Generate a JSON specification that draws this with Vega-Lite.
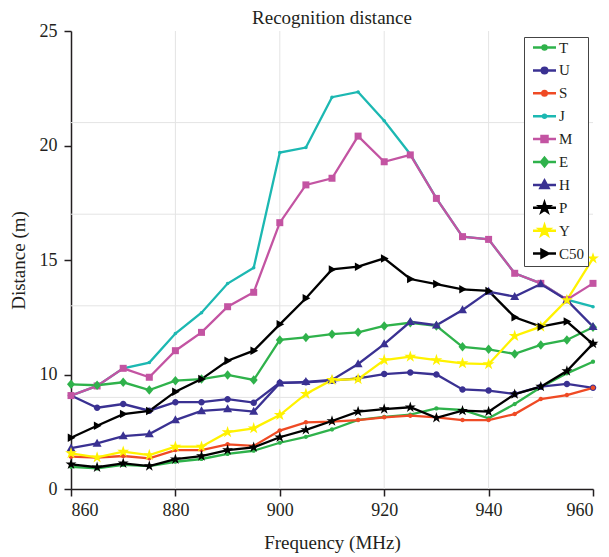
{
  "$schema": "https://vega.github.io/schema/vega-lite/v6.json",
  "width": 522,
  "height": 458,
  "autosize": "none",
  "padding": {"left": 71, "top": 31, "right": 16, "bottom": 68},
  "background": "white",
  "title": {
    "text": "Recognition distance",
    "font": "Liberation Serif",
    "fontSize": 19,
    "fontWeight": "normal",
    "color": "#231f20",
    "frame": "group",
    "anchor": "middle",
    "offset": -6
  },
  "config": {
    "view": {"stroke": null},
    "axis": {
      "domainColor": "#231f20",
      "domainWidth": 1.5,
      "tickColor": "#231f20",
      "tickWidth": 1.5,
      "tickSize": 7,
      "labelFont": "Liberation Serif",
      "labelFontSize": 18,
      "labelColor": "#231f20",
      "titleFont": "Liberation Serif",
      "titleFontSize": 19,
      "titleFontWeight": "normal",
      "titleColor": "#231f20",
      "grid": false
    },
    "legend": {
      "strokeColor": "#444", "fillColor": "white", "padding": 3,
      "labelFont": "Liberation Serif", "labelFontSize": 15, "labelColor": "#231f20",
      "symbolSize": 100, "symbolStrokeWidth": 2.5, "symbolOpacity": 1,
      "symbolOffset": 10, "labelOffset": 7, "rowPadding": 2.9, "gridAlign": "all"
    }
  },
  "datasets": {
    "grid_x": [{"v": 880}, {"v": 900}, {"v": 920}, {"v": 940}],
    "grid_y": [{"g": 9}, {"g": 13}, {"g": 17}, {"g": 21}],
    "distance": [
      {"f":860,"s":"T","d":5.97},{"f":865,"s":"T","d":5.90},{"f":870,"s":"T","d":6.05},{"f":875,"s":"T","d":6.00},{"f":880,"s":"T","d":6.19},{"f":885,"s":"T","d":6.31},{"f":890,"s":"T","d":6.53},{"f":895,"s":"T","d":6.67},{"f":900,"s":"T","d":7.02},{"f":905,"s":"T","d":7.28},{"f":910,"s":"T","d":7.60},{"f":915,"s":"T","d":8.02},{"f":920,"s":"T","d":8.15},{"f":925,"s":"T","d":8.25},{"f":930,"s":"T","d":8.52},{"f":935,"s":"T","d":8.45},{"f":940,"s":"T","d":8.09},{"f":945,"s":"T","d":8.71},{"f":950,"s":"T","d":9.44},{"f":955,"s":"T","d":10.05},{"f":960,"s":"T","d":10.56},
      {"f":860,"s":"U","d":9.08},{"f":865,"s":"U","d":8.55},{"f":870,"s":"U","d":8.71},{"f":875,"s":"U","d":8.42},{"f":880,"s":"U","d":8.79},{"f":885,"s":"U","d":8.79},{"f":890,"s":"U","d":8.92},{"f":895,"s":"U","d":8.77},{"f":900,"s":"U","d":9.64},{"f":905,"s":"U","d":9.66},{"f":910,"s":"U","d":9.73},{"f":915,"s":"U","d":9.83},{"f":920,"s":"U","d":10.02},{"f":925,"s":"U","d":10.09},{"f":930,"s":"U","d":10.00},{"f":935,"s":"U","d":9.35},{"f":940,"s":"U","d":9.30},{"f":945,"s":"U","d":9.15},{"f":950,"s":"U","d":9.47},{"f":955,"s":"U","d":9.59},{"f":960,"s":"U","d":9.42},
      {"f":860,"s":"S","d":6.41},{"f":865,"s":"S","d":6.37},{"f":870,"s":"S","d":6.44},{"f":875,"s":"S","d":6.34},{"f":880,"s":"S","d":6.70},{"f":885,"s":"S","d":6.70},{"f":890,"s":"S","d":6.95},{"f":895,"s":"S","d":6.88},{"f":900,"s":"S","d":7.55},{"f":905,"s":"S","d":7.91},{"f":910,"s":"S","d":7.94},{"f":915,"s":"S","d":8.01},{"f":920,"s":"S","d":8.13},{"f":925,"s":"S","d":8.20},{"f":930,"s":"S","d":8.13},{"f":935,"s":"S","d":8.01},{"f":940,"s":"S","d":8.01},{"f":945,"s":"S","d":8.27},{"f":950,"s":"S","d":8.93},{"f":955,"s":"S","d":9.10},{"f":960,"s":"S","d":9.42},
      {"f":860,"s":"J","d":9.08},{"f":865,"s":"J","d":9.50},{"f":870,"s":"J","d":10.27},{"f":875,"s":"J","d":10.52},{"f":880,"s":"J","d":11.79},{"f":885,"s":"J","d":12.70},{"f":890,"s":"J","d":13.97},{"f":895,"s":"J","d":14.66},{"f":900,"s":"J","d":19.69},{"f":905,"s":"J","d":19.91},{"f":910,"s":"J","d":22.11},{"f":915,"s":"J","d":22.34},{"f":920,"s":"J","d":21.08},{"f":925,"s":"J","d":19.62},{"f":930,"s":"J","d":17.69},{"f":935,"s":"J","d":16.02},{"f":940,"s":"J","d":15.90},{"f":945,"s":"J","d":14.42},{"f":950,"s":"J","d":13.98},{"f":955,"s":"J","d":13.27},{"f":960,"s":"J","d":12.96},
      {"f":860,"s":"M","d":9.08},{"f":865,"s":"M","d":9.50},{"f":870,"s":"M","d":10.27},{"f":875,"s":"M","d":9.88},{"f":880,"s":"M","d":11.04},{"f":885,"s":"M","d":11.84},{"f":890,"s":"M","d":12.96},{"f":895,"s":"M","d":13.59},{"f":900,"s":"M","d":16.63},{"f":905,"s":"M","d":18.28},{"f":910,"s":"M","d":18.57},{"f":915,"s":"M","d":20.41},{"f":920,"s":"M","d":19.29},{"f":925,"s":"M","d":19.59},{"f":930,"s":"M","d":17.69},{"f":935,"s":"M","d":16.02},{"f":940,"s":"M","d":15.90},{"f":945,"s":"M","d":14.42},{"f":950,"s":"M","d":13.98},{"f":955,"s":"M","d":13.27},{"f":960,"s":"M","d":13.98},
      {"f":860,"s":"E","d":9.57},{"f":865,"s":"E","d":9.53},{"f":870,"s":"E","d":9.66},{"f":875,"s":"E","d":9.32},{"f":880,"s":"E","d":9.73},{"f":885,"s":"E","d":9.80},{"f":890,"s":"E","d":9.98},{"f":895,"s":"E","d":9.76},{"f":900,"s":"E","d":11.51},{"f":905,"s":"E","d":11.62},{"f":910,"s":"E","d":11.76},{"f":915,"s":"E","d":11.84},{"f":920,"s":"E","d":12.12},{"f":925,"s":"E","d":12.26},{"f":930,"s":"E","d":12.12},{"f":935,"s":"E","d":11.21},{"f":940,"s":"E","d":11.10},{"f":945,"s":"E","d":10.90},{"f":950,"s":"E","d":11.29},{"f":955,"s":"E","d":11.51},{"f":960,"s":"E","d":12.06},
      {"f":860,"s":"H","d":6.78},{"f":865,"s":"H","d":6.99},{"f":870,"s":"H","d":7.31},{"f":875,"s":"H","d":7.40},{"f":880,"s":"H","d":8.01},{"f":885,"s":"H","d":8.41},{"f":890,"s":"H","d":8.49},{"f":895,"s":"H","d":8.38},{"f":900,"s":"H","d":9.62},{"f":905,"s":"H","d":9.68},{"f":910,"s":"H","d":9.76},{"f":915,"s":"H","d":10.46},{"f":920,"s":"H","d":11.33},{"f":925,"s":"H","d":12.30},{"f":930,"s":"H","d":12.15},{"f":935,"s":"H","d":12.82},{"f":940,"s":"H","d":13.62},{"f":945,"s":"H","d":13.40},{"f":950,"s":"H","d":13.95},{"f":955,"s":"H","d":13.25},{"f":960,"s":"H","d":12.09},
      {"f":860,"s":"P","d":6.08},{"f":865,"s":"P","d":5.95},{"f":870,"s":"P","d":6.12},{"f":875,"s":"P","d":6.00},{"f":880,"s":"P","d":6.30},{"f":885,"s":"P","d":6.44},{"f":890,"s":"P","d":6.70},{"f":895,"s":"P","d":6.82},{"f":900,"s":"P","d":7.26},{"f":905,"s":"P","d":7.58},{"f":910,"s":"P","d":7.97},{"f":915,"s":"P","d":8.38},{"f":920,"s":"P","d":8.49},{"f":925,"s":"P","d":8.57},{"f":930,"s":"P","d":8.11},{"f":935,"s":"P","d":8.42},{"f":940,"s":"P","d":8.38},{"f":945,"s":"P","d":9.14},{"f":950,"s":"P","d":9.47},{"f":955,"s":"P","d":10.15},{"f":960,"s":"P","d":11.35},
      {"f":860,"s":"Y","d":6.56},{"f":865,"s":"Y","d":6.38},{"f":870,"s":"Y","d":6.63},{"f":875,"s":"Y","d":6.48},{"f":880,"s":"Y","d":6.85},{"f":885,"s":"Y","d":6.85},{"f":890,"s":"Y","d":7.48},{"f":895,"s":"Y","d":7.65},{"f":900,"s":"Y","d":8.23},{"f":905,"s":"Y","d":9.15},{"f":910,"s":"Y","d":9.76},{"f":915,"s":"Y","d":9.80},{"f":920,"s":"Y","d":10.63},{"f":925,"s":"Y","d":10.78},{"f":930,"s":"Y","d":10.63},{"f":935,"s":"Y","d":10.49},{"f":940,"s":"Y","d":10.45},{"f":945,"s":"Y","d":11.68},{"f":950,"s":"Y","d":12.09},{"f":955,"s":"Y","d":13.25},{"f":960,"s":"Y","d":15.07},
      {"f":860,"s":"C50","d":7.24},{"f":865,"s":"C50","d":7.76},{"f":870,"s":"C50","d":8.27},{"f":875,"s":"C50","d":8.41},{"f":880,"s":"C50","d":9.25},{"f":885,"s":"C50","d":9.80},{"f":890,"s":"C50","d":10.60},{"f":895,"s":"C50","d":11.04},{"f":900,"s":"C50","d":12.19},{"f":905,"s":"C50","d":13.33},{"f":910,"s":"C50","d":14.59},{"f":915,"s":"C50","d":14.71},{"f":920,"s":"C50","d":15.07},{"f":925,"s":"C50","d":14.17},{"f":930,"s":"C50","d":13.95},{"f":935,"s":"C50","d":13.72},{"f":940,"s":"C50","d":13.65},{"f":945,"s":"C50","d":12.50},{"f":950,"s":"C50","d":12.09},{"f":955,"s":"C50","d":12.31},{"f":960,"s":"C50","d":11.33}
    ]
  },
  "layer": [
    {
      "data": {"name": "grid_x"},
      "mark": {"type": "rule", "color": "#e4e4e4", "strokeWidth": 1},
      "encoding": {
        "x": {
          "field": "v", "type": "quantitative",
          "scale": {"domain": [860, 960], "nice": false},
          "axis": {"values": [860, 880, 900, 920, 940, 960], "format": "d", "labelPadding": 5, "title": "Frequency (MHz)", "titlePadding": 14}
        }
      }
    },
    {
      "data": {"name": "grid_y"},
      "mark": {"type": "rule", "color": "#e4e4e4", "strokeWidth": 1},
      "encoding": {
        "y": {
          "field": "g", "type": "quantitative",
          "scale": {"domain": [5, 25], "nice": false},
          "axis": {"values": [5, 10, 15, 20, 25], "labelExpr": "datum.value == 5 ? '0' : datum.label", "labelPadding": 7, "title": "Distance (m)", "titlePadding": 11}
        }
      }
    },
    {
      "data": {"name": "distance"},
      "mark": {"type": "line", "strokeWidth": 2.3},
      "encoding": {
        "x": {"field": "f", "type": "quantitative", "axis": {"title": "Frequency (MHz)"}},
        "y": {"field": "d", "type": "quantitative", "axis": {"title": "Distance (m)"}},
        "color": {
          "field": "s", "type": "nominal",
          "scale": {
            "range": ["#000000", "#2fb24b", "#3a3192", "#1cb8b2", "#c354a2", "#000000", "#ef4a24", "#2fb24b", "#3a3192", "#fff200"]
          },
          "legend": null
        }
      }
    },
    {
      "data": {"name": "distance"},
      "transform": [{"filter": "datum.s == 'T'"}],
      "mark": {"type": "point", "filled": true, "size": 100, "opacity": 1, "shape": "M-0.42,0A0.42,0.42 0 1,0 0.42,0A0.42,0.42 0 1,0 -0.42,0Z"},
      "encoding": {"x": {"field": "f", "type": "quantitative"}, "y": {"field": "d", "type": "quantitative"}, "color": {"field": "s", "type": "nominal", "legend": null}}
    },
    {
      "data": {"name": "distance"},
      "transform": [{"filter": "datum.s == 'U'"}],
      "mark": {"type": "point", "filled": true, "size": 100, "opacity": 1, "shape": "M-0.65,0A0.65,0.65 0 1,0 0.65,0A0.65,0.65 0 1,0 -0.65,0Z"},
      "encoding": {"x": {"field": "f", "type": "quantitative"}, "y": {"field": "d", "type": "quantitative"}, "color": {"field": "s", "type": "nominal", "legend": null}}
    },
    {
      "data": {"name": "distance"},
      "transform": [{"filter": "datum.s == 'S'"}],
      "mark": {"type": "point", "filled": true, "size": 100, "opacity": 1, "shape": "M-0.45,0A0.45,0.45 0 1,0 0.45,0A0.45,0.45 0 1,0 -0.45,0Z"},
      "encoding": {"x": {"field": "f", "type": "quantitative"}, "y": {"field": "d", "type": "quantitative"}, "color": {"field": "s", "type": "nominal", "legend": null}}
    },
    {
      "data": {"name": "distance"},
      "transform": [{"filter": "datum.s == 'J'"}],
      "mark": {"type": "point", "filled": true, "size": 100, "opacity": 1, "shape": "M-0.35,0A0.35,0.35 0 1,0 0.35,0A0.35,0.35 0 1,0 -0.35,0Z"},
      "encoding": {"x": {"field": "f", "type": "quantitative"}, "y": {"field": "d", "type": "quantitative"}, "color": {"field": "s", "type": "nominal", "legend": null}}
    },
    {
      "data": {"name": "distance"},
      "transform": [{"filter": "datum.s == 'M'"}],
      "mark": {"type": "point", "filled": true, "size": 100, "opacity": 1, "shape": "M-0.7,-0.7H0.7V0.7H-0.7Z"},
      "encoding": {"x": {"field": "f", "type": "quantitative"}, "y": {"field": "d", "type": "quantitative"}, "color": {"field": "s", "type": "nominal", "legend": null}}
    },
    {
      "data": {"name": "distance"},
      "transform": [{"filter": "datum.s == 'E'"}],
      "mark": {"type": "point", "filled": true, "size": 100, "opacity": 1, "shape": "M0,-0.95L0.8,0L0,0.95L-0.8,0Z"},
      "encoding": {"x": {"field": "f", "type": "quantitative"}, "y": {"field": "d", "type": "quantitative"}, "color": {"field": "s", "type": "nominal", "legend": null}}
    },
    {
      "data": {"name": "distance"},
      "transform": [{"filter": "datum.s == 'H'"}],
      "mark": {"type": "point", "filled": true, "size": 100, "opacity": 1, "shape": "M0,-0.95L0.9,0.65L-0.9,0.65Z"},
      "encoding": {"x": {"field": "f", "type": "quantitative"}, "y": {"field": "d", "type": "quantitative"}, "color": {"field": "s", "type": "nominal", "legend": null}}
    },
    {
      "data": {"name": "distance"},
      "transform": [{"filter": "datum.s == 'P'"}],
      "mark": {"type": "point", "filled": true, "size": 100, "opacity": 1, "shape": "M0,-1.15L0.258,-0.355L1.094,-0.355L0.418,0.136L0.676,0.93L0,0.439L-0.676,0.93L-0.418,0.136L-1.094,-0.355L-0.258,-0.355Z"},
      "encoding": {"x": {"field": "f", "type": "quantitative"}, "y": {"field": "d", "type": "quantitative"}, "color": {"field": "s", "type": "nominal", "legend": null}}
    },
    {
      "data": {"name": "distance"},
      "transform": [{"filter": "datum.s == 'Y'"}],
      "mark": {"type": "point", "filled": true, "size": 100, "opacity": 1, "shape": "M0,-1.25L0.281,-0.386L1.189,-0.386L0.454,0.148L0.735,1.011L0,0.478L-0.735,1.011L-0.454,0.148L-1.189,-0.386L-0.281,-0.386Z"},
      "encoding": {"x": {"field": "f", "type": "quantitative"}, "y": {"field": "d", "type": "quantitative"}, "color": {"field": "s", "type": "nominal", "legend": null}}
    },
    {
      "data": {"name": "distance"},
      "transform": [{"filter": "datum.s == 'C50'"}],
      "mark": {"type": "point", "filled": true, "size": 100, "opacity": 1, "shape": "M0.9,0L-0.65,-0.85L-0.65,0.85Z"},
      "encoding": {"x": {"field": "f", "type": "quantitative"}, "y": {"field": "d", "type": "quantitative"}, "color": {"field": "s", "type": "nominal", "legend": null}}
    },
    {
      "data": {"name": "distance"},
      "transform": [{"filter": "false"}],
      "mark": {"type": "point", "filled": true, "size": 100, "opacity": 1},
      "encoding": {
        "x": {"field": "f", "type": "quantitative"},
        "y": {"field": "d", "type": "quantitative"},
        "fill": {
          "field": "s", "type": "nominal",
          "scale": {
            "domain": ["T", "U", "S", "J", "M", "E", "H", "P", "Y", "C50"],
            "range": ["#2fb24b", "#3a3192", "#ef4a24", "#1cb8b2", "#c354a2", "#2fb24b", "#3a3192", "#000000", "#fff200", "#000000"]
          },
          "legend": {"title": null, "orient": "none", "legendX": 453, "legendY": 6, "gridAlign": "all", "rowPadding": 2.9, "padding": 3, "symbolOffset": 10, "labelOffset": 7}
        },
        "stroke": {
          "field": "s", "type": "nominal",
          "scale": {
            "domain": ["T", "U", "S", "J", "M", "E", "H", "P", "Y", "C50"],
            "range": ["#2fb24b", "#3a3192", "#ef4a24", "#1cb8b2", "#c354a2", "#2fb24b", "#3a3192", "#000000", "#fff200", "#000000"]
          },
          "legend": {"title": null, "orient": "none", "legendX": 453, "legendY": 6, "gridAlign": "all", "rowPadding": 2.9, "padding": 3, "symbolOffset": 10, "labelOffset": 7}
        },
        "shape": {
          "field": "s", "type": "nominal",
          "scale": {
            "domain": ["T", "U", "S", "J", "M", "E", "H", "P", "Y", "C50"],
            "range": [
              "M-2.3,0H2.3M-0.4,0A0.4,0.4 0 1,0 0.4,0A0.4,0.4 0 1,0 -0.4,0Z",
              "M-2.3,0H2.3M-0.55,0A0.55,0.55 0 1,0 0.55,0A0.55,0.55 0 1,0 -0.55,0Z",
              "M-2.3,0H2.3M-0.45,0A0.45,0.45 0 1,0 0.45,0A0.45,0.45 0 1,0 -0.45,0Z",
              "M-2.3,0H2.3M-0.3,0A0.3,0.3 0 1,0 0.3,0A0.3,0.3 0 1,0 -0.3,0Z",
              "M-2.3,0H2.3M-0.6,-0.6H0.6V0.6H-0.6Z",
              "M-2.3,0H2.3M0,-0.85L0.7,0L0,0.85L-0.7,0Z",
              "M-2.3,0H2.3M0,-0.85L0.8,0.6L-0.8,0.6Z",
              "M-2.3,0H2.3M0,-1L0.225,-0.309L0.951,-0.309L0.363,0.118L0.588,0.809L0,0.382L-0.588,0.809L-0.363,0.118L-0.951,-0.309L-0.225,-0.309Z",
              "M-2.3,0H2.3M0,-1.05L0.236,-0.324L0.999,-0.324L0.381,0.124L0.617,0.849L0,0.401L-0.617,0.849L-0.381,0.124L-0.999,-0.324L-0.236,-0.324Z",
              "M-2.3,0H2.3M0.8,0L-0.6,-0.75L-0.6,0.75Z"
            ]
          },
          "legend": {"title": null, "orient": "none", "legendX": 453, "legendY": 6, "gridAlign": "all", "rowPadding": 2.9, "padding": 3, "symbolOffset": 10, "labelOffset": 7}
        }
      }
    }
  ]
}
